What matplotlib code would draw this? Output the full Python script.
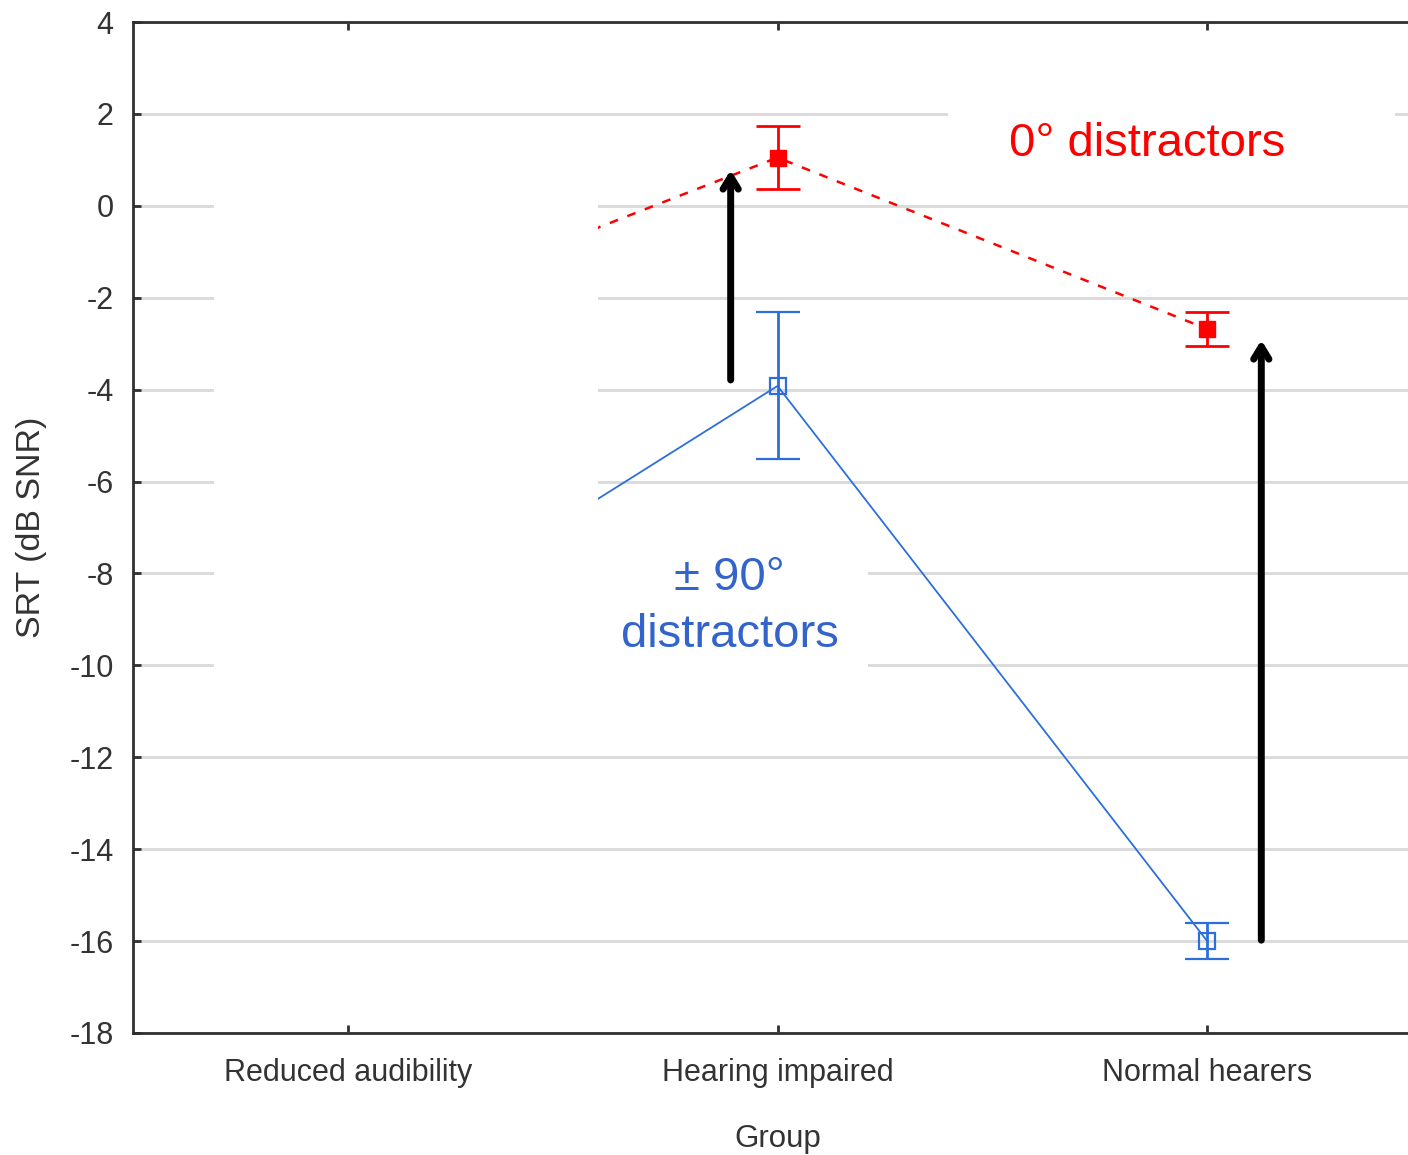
import matplotlib
matplotlib.use("Agg")
import matplotlib.pyplot as plt
from matplotlib.patches import Rectangle
import numpy as np

plt.rcParams['font.family'] = ['Liberation Sans', 'DejaVu Sans']

# Group means and error-bar half-widths (SRT, dB SNR)
groups = ["Reduced audibility", "Hearing impaired", "Normal hearers"]
srt_0deg = [-2.6, 1.05, -2.68]
err_0deg = [0.5, 0.68, 0.36]
srt_90deg = [-9.8, -3.92, -16.0]
err_90deg = [0.9, 1.6, 0.39]
yticks = [4, 2, 0, -2, -4, -6, -8, -10, -12, -14, -16, -18]

RED = "#ff0000"
BLUE = "#2c6fdb"
BLUE_TXT = "#3264cc"
SPINE = "#303030"
GRID = "#d9d9d9"

fig = plt.figure(figsize=(14.08, 11.55), dpi=100)
ax = fig.add_axes([133 / 1408, 122 / 1155, 1289 / 1408, 1011 / 1155])

x = np.arange(len(groups))

# 0 degree distractors: dashed red line, filled squares
ax.plot(x, srt_0deg, color=RED, lw=1.8, ls=(0, (3.5, 4)), zorder=3)
ax.errorbar(x, srt_0deg, yerr=err_0deg, fmt="s", color=RED, ms=11,
            mfc=RED, mec=RED, elinewidth=2.0, capsize=16, capthick=2.0,
            zorder=4)

# +/-90 degree distractors: solid blue line, open squares
ax.plot(x, srt_90deg, color=BLUE, lw=1.3, zorder=3)
ax.errorbar(x, srt_90deg, yerr=err_90deg, fmt="s", color=BLUE, ms=11,
            mfc="none", mec=BLUE, mew=1.6, elinewidth=2.0, capsize=16,
            capthick=2.0, zorder=4)

ax.set_xlim(-0.5, 2.5)
ax.set_ylim(-18, 4)
ax.set_xticks(x)
ax.set_xticklabels(groups)
ax.set_yticks(yticks)
ax.set_yticklabels([str(v) for v in yticks])

ax.yaxis.grid(True, color=GRID, lw=2.0, zorder=0)
ax.set_axisbelow(True)

for s in ax.spines.values():
    s.set_color(SPINE)
    s.set_linewidth(2.0)

ax.tick_params(axis="both", direction="in", length=6, width=2.0,
               color=SPINE, labelcolor="#333333", labelsize=22)
ax.tick_params(axis="x", top=True, pad=18)
ax.tick_params(axis="y", right=False, pad=14)

ax.set_xlabel("Group", fontsize=22.5, color="#333333", labelpad=26)
ax.set_ylabel("SRT (dB SNR)", fontsize=24.5, color="#333333", labelpad=16)

# white panels over the plot area
mask_kw = dict(transform=ax.transAxes, facecolor="white", edgecolor="none",
               zorder=5)
ax.add_patch(Rectangle((0.0628, 0.300), 0.2979, 0.598, **mask_kw))
ax.add_patch(Rectangle((0.3607, 0.360), 0.2095, 0.147, **mask_kw))
ax.add_patch(Rectangle((0.632, 0.839), 0.347, 0.095, **mask_kw))

# condition labels
ax.text(0.7866, 0.8675, "0° distractors", transform=ax.transAxes,
        ha="center", va="baseline", fontsize=34, color=RED, zorder=6)
ax.text(0.463, 0.438, "± 90°", transform=ax.transAxes,
        ha="center", va="baseline", fontsize=34, color=BLUE_TXT, zorder=6)
ax.text(0.463, 0.3818, "distractors", transform=ax.transAxes,
        ha="center", va="baseline", fontsize=34, color=BLUE_TXT, zorder=6)

# arrows showing the spatial release from masking
arrow_kw = dict(arrowstyle="->,head_length=0.9,head_width=0.55",
                color="black", lw=5, shrinkA=0, shrinkB=0)
ax.annotate("", xy=(0.891, 0.78), xytext=(0.891, -3.79),
            arrowprops=arrow_kw, zorder=7)
ax.annotate("", xy=(2.126, -2.92), xytext=(2.126, -15.98),
            arrowprops=arrow_kw, zorder=7)

fig.savefig("out.png", dpi=100, facecolor="white")
